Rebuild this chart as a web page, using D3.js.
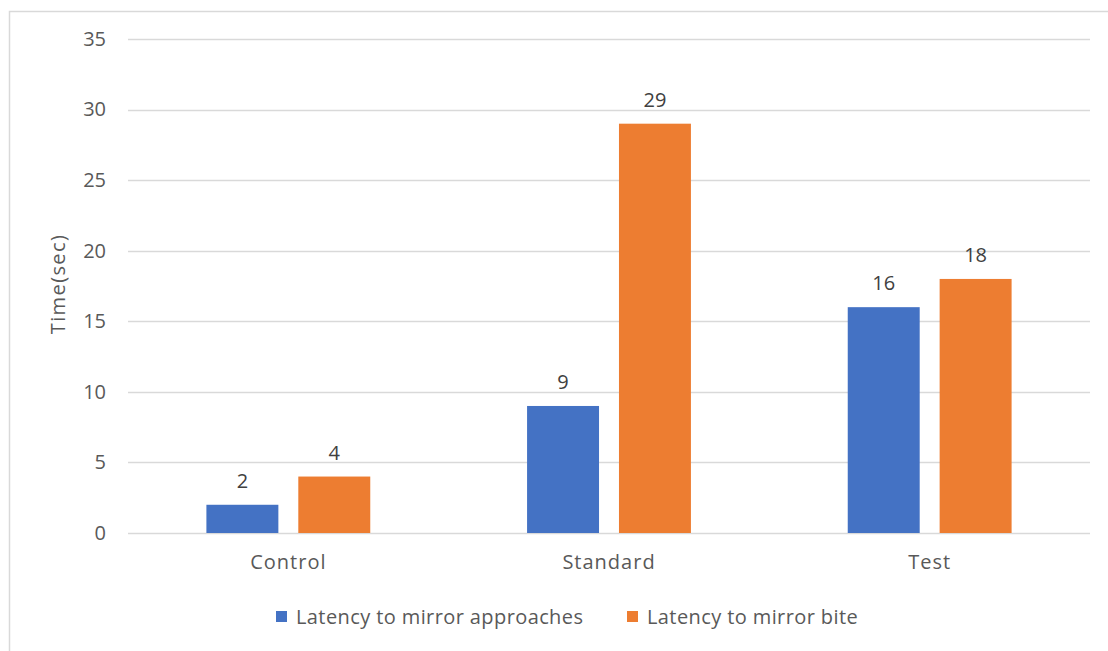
<!DOCTYPE html>
<html><head><meta charset="utf-8">
<script src="https://cdn.jsdelivr.net/npm/d3@7"></script>
<style>body{margin:0;background:#fff;} text{font-family:"Open Sans",sans-serif;fill:#595959;}</style>
</head><body><svg id="c" width="1108" height="651"></svg>
<script>
const categories = ["Control", "Standard", "Test"];
const seriesNames = ["Latency to mirror approaches", "Latency to mirror bite"];
const approaches = [2, 9, 16];
const bite = [4, 29, 18];
const yTicks = [0, 5, 10, 15, 20, 25, 30, 35];
const colors = ["#4472c4", "#ed7d31"];

const svg = d3.select("#c");
svg.append("rect").attr("x", 9.5).attr("y", 11.5).attr("width", 1120).attr("height", 660)
  .attr("fill", "#fff").attr("stroke", "#d9d9d9").attr("stroke-width", 1.5);

const pLeft = 128, pRight = 1090, pTop = 39, pBottom = 533;
const y = d3.scaleLinear().domain([0, 35]).range([pBottom, pTop]);
const x0 = d3.scaleBand().domain(categories).range([pLeft, pRight]).paddingInner(0.489).paddingOuter(0.2445);
const x1 = d3.scaleBand().domain(seriesNames).range([0, x0.bandwidth()]).paddingInner(0.217);

// gridlines
svg.append("g").selectAll("line").data(yTicks).join("line")
  .attr("x1", pLeft).attr("x2", pRight).attr("y1", d => Math.round(y(d)) + 0.5).attr("y2", d => Math.round(y(d)) + 0.5)
  .attr("stroke", "#d9d9d9").attr("stroke-width", 1.3);

// y axis labels
const yAxis = d3.axisLeft(y).tickValues(yTicks).tickSize(0).tickPadding(0);
const ga = svg.append("g").attr("transform", `translate(${pLeft - 22},0)`).call(yAxis);
ga.select(".domain").remove();
ga.selectAll("text").style("font-size", "20px").attr("fill", "#595959").style("font-family", "'Open Sans',sans-serif");

// bars
const rows = categories.map((c, i) => ({ cat: c, vals: [approaches[i], bite[i]] }));
const g = svg.append("g").selectAll("g").data(rows).join("g")
  .attr("transform", d => `translate(${x0(d.cat)},0)`);
g.selectAll("rect").data(d => d.vals.map((v, j) => ({ s: seriesNames[j], v, j }))).join("rect")
  .attr("x", d => x1(d.s)).attr("width", x1.bandwidth())
  .attr("y", d => y(d.v)).attr("height", d => y(0) - y(d.v))
  .attr("fill", d => colors[d.j]);
g.selectAll("text.lbl").data(d => d.vals.map((v, j) => ({ s: seriesNames[j], v, j }))).join("text")
  .attr("class", "lbl")
  .attr("x", d => x1(d.s) + x1.bandwidth() / 2).attr("y", d => y(d.v) - 17)
  .attr("text-anchor", "middle").style("font-size", "20px").style("fill", "#404040").text(d => d.v);

// x axis labels
const xAxis = d3.axisBottom(x0).tickSize(0).tickPadding(0);
const gx = svg.append("g").attr("transform", `translate(0,${pBottom + 22})`).call(xAxis);
gx.select(".domain").remove();
gx.selectAll("text").style("font-size", "20px").style("letter-spacing", "1px").attr("fill", "#595959").style("font-family", "'Open Sans',sans-serif");

// y title
svg.append("text").attr("transform", `translate(65,${(pTop + pBottom) / 2 - 2}) rotate(-90)`)
  .attr("text-anchor", "middle").style("font-size", "20px").style("letter-spacing", "1.4px").text("Time(sec)");

// legend
const legX = [276, 627];
const lg = svg.append("g").selectAll("g").data(seriesNames).join("g")
  .attr("transform", (d, i) => `translate(${legX[i]},611)`);
lg.append("rect").attr("width", 11).attr("height", 11).attr("fill", (d, i) => colors[i]);
lg.append("text").attr("x", 20).attr("y", 13).style("font-size", "20px").style("letter-spacing", "0.4px").text(d => d);
</script></body></html>
